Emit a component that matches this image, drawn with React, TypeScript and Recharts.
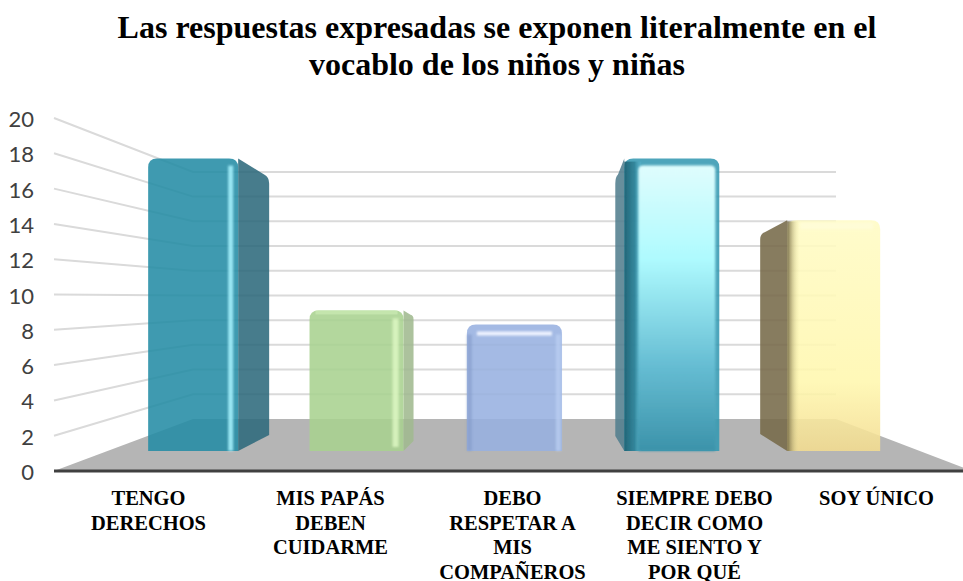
import React from 'react';
import { BarChart, Bar, XAxis, YAxis, CartesianGrid } from 'recharts';

const categories = [
  'TENGO\nDERECHOS',
  'MIS PAPÁS\nDEBEN\nCUIDARME',
  'DEBO\nRESPETAR A\nMIS\nCOMPAÑEROS',
  'SIEMPRE DEBO\nDECIR COMO\nME SIENTO Y\nPOR QUÉ',
  'SOY ÚNICO',
];
const values = [17.7, 9.1, 8.3, 17.7, 14.2];
const yTicks = [0, 2, 4, 6, 8, 10, 12, 14, 16, 18, 20];

const chartData = categories.map((name, i) => ({ name, value: values[i] }));

// look of the fake 3D: face width, side width (negative = side on the left)
const faceWidths = [90, 94, 95, 95, 93];
const sideWidths = [31, 10, 0, -9, -27];
const sideDrops = [22, 6, 0, 22, 16];
const sideRises = [16, 10, 0, 15, 17];
const sideColors = ['#2f6a7c', '#a0b98f', '#97b0e0', '#527e8e', '#766a49'];
const faceFills = ['#258ca5', '#a8d18f', '#97b0e0', '#3498b2', 'url(#faceYellow)'];

const PLOT_LEFT = 54;
const FLOOR_FRONT_RIGHT = 972;
const WALL_LEFT = 193;
const WALL_RIGHT = 836;
const FLOOR_BACK = 419;
const AXIS_ZERO = 471;
const BAR_LIFT = 20;
const BAND_MID = 509;
const CHART_MID = 514.5;

const wallY = (y: number) => FLOOR_BACK + 0.7 * (y - AXIS_ZERO);

// each grid line becomes the side line + wall line of its value, the zero line is the floor
const wallLine = ({ y1, key }: any) => {
  const back = wallY(y1);
  if (Math.abs(y1 - AXIS_ZERO) < 1) {
    return (
      <polygon
        key={key}
        points={`${PLOT_LEFT},${y1} ${WALL_LEFT},${back} ${WALL_RIGHT},${back} ${FLOOR_FRONT_RIGHT},${y1}`}
        fill="#b5b5b5"
      />
    );
  }
  return (
    <path
      key={key}
      d={`M${PLOT_LEFT} ${y1} L${WALL_LEFT} ${back} L${WALL_RIGHT} ${back}`}
      fill="none"
      stroke="#dadada"
      strokeWidth={2}
    />
  );
};

const ValueTick = ({ y, payload }: any) => (
  <text x={34} y={y + 9} textAnchor="end" fontFamily="Lato" fontSize={22} fill="#404040">
    {payload.value}
  </text>
);

const CategoryTick = ({ x, payload }: any) => (
  <text
    x={x + 3.5}
    textAnchor="middle"
    fontFamily="'Liberation Serif'"
    fontWeight="bold"
    fontSize={20.5}
    fill="#000"
  >
    {String(payload.value)
      .split('\n')
      .map((line, i) => (
        <tspan key={i} x={x + 3.5} y={505 + i * 24.5}>
          {line}
        </tspan>
      ))}
  </text>
);

const facePath = (l: number, r: number, t: number, b: number, rad: number) =>
  `M${l} ${b} L${l} ${t + rad} Q${l} ${t} ${l + rad} ${t} L${r - rad} ${t} Q${r} ${t} ${r} ${t + rad} L${r} ${b} Z`;

const Box3D = ({ x, y, width, height, index }: any) => {
  const center = CHART_MID + (x + width / 2 - BAND_MID) * 0.84;
  const faceW = faceWidths[index];
  const side = sideWidths[index];
  const left = center - (faceW + Math.abs(side)) / 2;
  const l = side < 0 ? left - side : left;
  const r = l + faceW;
  const t = y;
  const b = y + height - BAR_LIFT;
  const edge = side < 0 ? l + side : r + side;
  const joint = side < 0 ? l : r;
  const drop = sideDrops[index];
  const rise = sideRises[index];
  // corner of the side panel, rounded a little before the outer edge
  const dir = side < 0 ? 1 : -1;
  const near = edge + dir * Math.min(5, Math.abs(side) * 0.3);

  return (
    <g filter="url(#edge)">
      {side !== 0 && (
        <path
          d={`M${joint} ${t} L${near} ${t + drop * 0.72} Q${edge} ${t + drop * 0.82} ${edge} ${t + drop + 3} L${edge} ${b - rise} L${joint} ${b} Z`}
          fill={sideColors[index]}
          fillOpacity={0.88}
        />
      )}
      <path d={facePath(l, r, t, b, 9)} fill={faceFills[index]} fillOpacity={0.88} />

      {index === 0 && (
        <rect x={r - 10} y={t + 7} width={5} height={b - t - 7} fill="#a8f3ff" fillOpacity={0.85} filter="url(#soft)" />
      )}
      {index === 1 && (
        <g>
          <rect x={r - 11} y={t + 8} width={6} height={b - t - 12} fill="#dcf7c2" fillOpacity={0.85} filter="url(#soft)" />
          <rect x={l + 6} y={t} width={faceW - 12} height={4} fill="#c8e9b2" fillOpacity={0.8} />
        </g>
      )}
      {index === 2 && (
        <g>
          <rect x={l + 10} y={t + 7} width={faceW - 20} height={4} fill="#eef3ff" filter="url(#soft)" />
          <rect x={l} y={t + 10} width={5} height={b - t - 10} fill="#7f98c8" fillOpacity={0.55} filter="url(#soft)" />
          <rect x={r - 6} y={t + 10} width={5} height={b - t - 10} fill="#bcd0f4" fillOpacity={0.7} filter="url(#soft)" />
        </g>
      )}
      {index === 3 && (
        <g>
          <rect x={l} y={t + 3} width={17} height={b - t - 3} fill="url(#stripDark)" />
          <path d={facePath(l + 14, r - 4, t + 7, b, 5)} fill="url(#faceCyan)" filter="url(#soft)" />
        </g>
      )}
      {index === 4 && (
        <g>
          <rect x={l} y={t + 1} width={13} height={b - t - 1} fill="url(#stripOlive)" />
          <rect x={l + 13} y={t + 2} width={faceW - 20} height={7} fill="#fffde0" fillOpacity={0.55} filter="url(#soft)" />
        </g>
      )}
    </g>
  );
};

export default function App() {
  return (
    <div
      style={{
        position: 'absolute',
        left: 0,
        top: 0,
        width: 963,
        height: 581,
        overflow: 'hidden',
        background: '#fff',
      }}
    >
      <div
        style={{
          position: 'absolute',
          left: 0,
          top: 9,
          width: 994,
          textAlign: 'center',
          fontFamily: "'Liberation Serif'",
          fontWeight: 'bold',
          fontSize: 32,
          lineHeight: '37px',
          color: '#000',
        }}
      >
        Las respuestas expresadas se exponen literalmente en el
        <br />
        vocablo de los niños y niñas
      </div>
      <BarChart
        width={964}
        height={581}
        data={chartData}
        margin={{ top: 118, right: 0, bottom: 0, left: 0 }}
        barCategoryGap="45%"
      >
        <defs>
          <filter id="soft" x="-100%" y="-50%" width="300%" height="200%">
            <feGaussianBlur stdDeviation="1.2" />
          </filter>
          <filter id="edge" x="-5%" y="-5%" width="110%" height="110%">
            <feGaussianBlur stdDeviation="0.5" />
          </filter>
          <linearGradient id="faceCyan" x1="0" y1="0" x2="0" y2="1">
            <stop offset="0" stopColor="#dffdfd" />
            <stop offset="0.33" stopColor="#aefafe" />
            <stop offset="0.7" stopColor="#66bdd3" />
            <stop offset="1" stopColor="#3c93aa" />
          </linearGradient>
          <linearGradient id="faceYellow" x1="0" y1="0" x2="0" y2="1">
            <stop offset="0" stopColor="#fffbc4" />
            <stop offset="0.7" stopColor="#fff7ae" />
            <stop offset="1" stopColor="#f3dc90" />
          </linearGradient>
          <linearGradient id="stripDark" x1="0" y1="0" x2="1" y2="0">
            <stop offset="0" stopColor="#1f6274" stopOpacity={0.95} />
            <stop offset="0.6" stopColor="#2f8196" stopOpacity={0.85} />
            <stop offset="1" stopColor="#5fbcd4" stopOpacity={0.3} />
          </linearGradient>
          <linearGradient id="stripOlive" x1="0" y1="0" x2="1" y2="0">
            <stop offset="0" stopColor="#6f6440" stopOpacity={0.9} />
            <stop offset="1" stopColor="#fff7ae" stopOpacity={0} />
          </linearGradient>
        </defs>
        <CartesianGrid vertical={false} horizontal={wallLine} />
        <YAxis
          domain={[0, 20]}
          ticks={yTicks}
          interval={0}
          width={PLOT_LEFT}
          axisLine={false}
          tickLine={false}
          tick={<ValueTick />}
        />
        <XAxis
          dataKey="name"
          height={110}
          interval={0}
          tickLine={false}
          axisLine={{ stroke: '#404040', strokeWidth: 3 }}
          tick={<CategoryTick />}
        />
        <Bar dataKey="value" shape={<Box3D />} isAnimationActive={false} />
      </BarChart>
    </div>
  );
}
